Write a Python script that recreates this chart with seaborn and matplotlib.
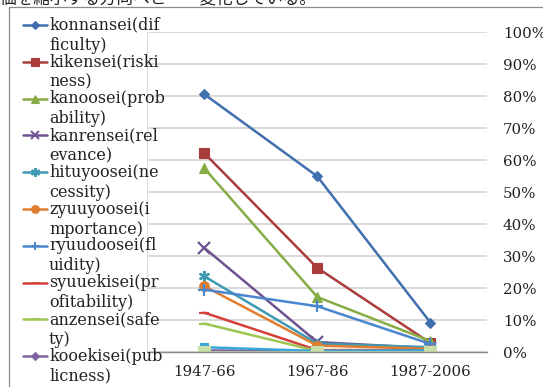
import matplotlib
matplotlib.use('Agg')
import matplotlib.pyplot as plt
import seaborn as sns
import pandas as pd
from matplotlib.lines import Line2D
from matplotlib.patches import Rectangle
from matplotlib.ticker import FixedLocator, FuncFormatter

# ---- data ----
periods = ['1947-66', '1967-86', '1987-2006']
series_names = ['konnansei', 'kikensei', 'kanoosei', 'kanrensei', 'hituyoosei',
                'zyuuyoosei', 'ryuudoosei', 'syuuekisei', 'anzensei', 'kooekisei',
                'extra1', 'extra2']
legend_labels = ['konnansei(dif\nficulty)', 'kikensei(riski\nness)', 'kanoosei(prob\nability)',
                 'kanrensei(rel\nevance)', 'hituyoosei(ne\ncessity)', 'zyuuyoosei(i\nmportance)',
                 'ryuudoosei(fl\nuidity)', 'syuuekisei(pr\nofitability)', 'anzensei(safe\nty)',
                 'kooekisei(pub\nlicness)']
konnansei = [80.6, 54.9, 9.2]
kikensei = [62.2, 26.3, 2.8]
kanoosei = [57.5, 17.2, 3.4]
kanrensei = [32.6, 3.1, 1.2]
hituyoosei = [23.7, 2.6, 1.5]
zyuuyoosei = [20.6, 2.0, 1.0]
ryuudoosei = [19.5, 14.3, 2.5]
syuuekisei = [12.3, 0.6, 0.6]
anzensei = [8.9, 0.3, 0.4]
kooekisei = [0.5, 0.3, 0.5]
extra1 = [1.5, 0.3, 0.5]
extra2 = [0.0, 0.0, 0.0]
values = [konnansei, kikensei, kanoosei, kanrensei, hituyoosei, zyuuyoosei,
          ryuudoosei, syuuekisei, anzensei, kooekisei, extra1, extra2]

colors = ['#3F6FAE', '#AA3D3B', '#86AC45', '#6F5391', '#3E9AB3', '#E07E30',
          '#4A86D0', '#D5403C', '#9CC652', '#8064A2', '#3BA7D8', '#C8DFAA']
markers = ['D', 's', '^', 'x', (6, 2, 0), 'o', '+', '_', '_', 'D', 's', 's']
msizes = [5.5, 7.5, 7, 8, 8, 7, 8, 7, 7, 5, 6, 9]

df = pd.DataFrame({
    'period': periods * len(series_names),
    'series': [s for s in series_names for _ in periods],
    'value': [v for vals in values for v in vals],
})

sns.set_theme(style='white')
plt.rcParams['font.family'] = ['DejaVu Serif']

W, H = 543, 387
fig = plt.figure(figsize=(W / 100, H / 100), dpi=100)
ax = fig.add_axes([147.5 / W, 1 - 352 / H, (487 - 147.5) / W, 320 / H])

for name, c, m, ms in zip(series_names, colors, markers, msizes):
    sub = df[df['series'] == name]
    sns.lineplot(data=sub, x='period', y='value', ax=ax, color=c, marker=m,
                 markersize=ms, linewidth=1.8, markeredgecolor=c,
                 markeredgewidth=1.6 if m in ('x', '+', '_', (6, 2, 0)) else 0.8,
                 errorbar=None, sort=False, legend=False)

ax.set_xlim(-0.5, 2.5)
ax.set_ylim(0, 100)
ax.set_yticks(range(0, 101, 10))
ax.yaxis.set_major_formatter(FuncFormatter(lambda v, p: f'{v:.0f}%'))
ax.yaxis.tick_right()
ax.tick_params(axis='y', length=0, pad=11.5, labelsize=10.8, colors='#222222')
ax.tick_params(axis='x', which='major', length=0, pad=9, labelsize=10.8, colors='#222222')
ax.xaxis.set_minor_locator(FixedLocator([-0.5, 0.5, 1.5, 2.5]))
ax.tick_params(axis='x', which='minor', length=4, width=1, color='#8a8a8a', direction='out')
ax.grid(axis='y', color='#cfcfcf', linewidth=1.1)
ax.set_axisbelow(True)
ax.set_xlabel('')
ax.set_ylabel('')
for s in ['top', 'right']:
    ax.spines[s].set_visible(False)
ax.spines['left'].set_color('#dcdcdc')
ax.spines['left'].set_linewidth(0.8)
ax.spines['bottom'].set_color('#8a8a8a')
ax.spines['bottom'].set_linewidth(1.0)

# outer chart frame
fig.add_artist(Rectangle((9 / W, -0.1), 1.2, 1.1 - 7 / H, transform=fig.transFigure,
                         fill=False, edgecolor='#8c8c8c', linewidth=0.9))

# clipped line of document text above the chart
fig.text(0.0, 1 + 1 / H, '価を縮小する方向へと　　変化している。', va='center', ha='left',
         fontsize=12, color='#222222', family=['Noto Sans CJK JP', 'DejaVu Sans'])

# manual legend
y0, step, lstep = 25, 36.8, 20
for i, lab in enumerate(legend_labels):
    yp = y0 + i * step
    yf = 1 - yp / H
    ln = Line2D([23 / W, 35 / W, 47 / W], [yf, yf, yf], transform=fig.transFigure,
                color=colors[i], linewidth=1.8, marker=markers[i], markevery=[1],
                markersize=msizes[i] * 0.8, markeredgecolor=colors[i],
                markeredgewidth=1.4 if markers[i] in ('x', '+', '_', (6, 2, 0)) else 0.8)
    fig.add_artist(ln)
    for j, part in enumerate(lab.split('\n')):
        fig.text(49 / W, 1 - (yp + j * lstep) / H, part, va='center', ha='left',
                 fontsize=11.5, color='#222222')

fig.savefig('out.png', dpi=100)
